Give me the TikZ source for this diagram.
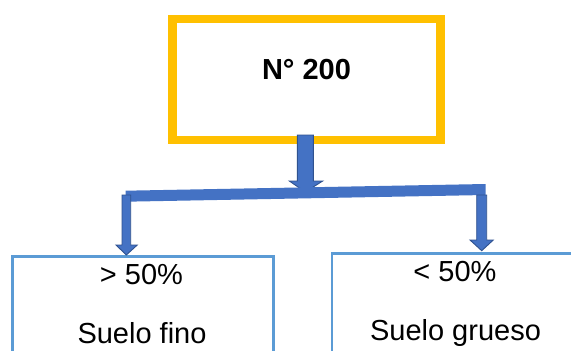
\documentclass[tikz,border=0pt]{standalone}
\usepackage{fontspec}
\setmainfont{Liberation Sans}
\definecolor{ygold}{HTML}{FFC000}
\definecolor{bfill}{HTML}{4472C4}
\definecolor{bline}{HTML}{2F528F}
\definecolor{lblue}{HTML}{5B9BD5}
\begin{document}
\begin{tikzpicture}[x=1pt,y=-1pt,
  topbox/.style={draw=ygold,line width=8.5pt,inner sep=0pt,minimum width=267.8pt,minimum height=121pt},
  lowbox/.style={draw=lblue,line width=2.5pt,inner sep=0pt,minimum width=260.7pt,minimum height=160pt,anchor=north west},
  blockarrow/.style={fill=bfill,draw=bline,line width=0.9pt,line join=miter},
  bar/.style={fill=bfill},
  lbl/.style={anchor=base,inner sep=0pt,font=\fontsize{29}{34}\selectfont}]
\useasboundingbox (0,0) rectangle (571,351);
\clip (0,0) rectangle (571,351);
\fill[white] (0,0) rectangle (571,351);
% boxes
\node[topbox] (top) at (306.6,79.5) {};
\node[lowbox] (fino) at (11.3,255) {};
\node[lowbox] (grueso) at (330.5,252) {};
% centre arrow
\coordinate (c) at (305.3,135);
\draw[blockarrow] (297.3,135) -- (313.3,135) -- (313.3,181) -- (322.7,181) -- (305.3,192) -- (289.3,181) -- (297.3,181) -- cycle;
% bar
\fill[bar] (125.7,190.7) -- (485.7,184) -- (485.7,195) -- (125.7,201.7) -- cycle;
% left arrow
\draw[blockarrow] (122,195) -- (130.7,195) -- (130.7,245) -- (137.3,245) -- (126.3,255) -- (116,245) -- (122,245) -- cycle;
% right arrow
\draw[blockarrow] (476.7,195) -- (486.7,195) -- (486.7,240) -- (493.3,240) -- (481.7,250.7) -- (470,240) -- (476.7,240) -- cycle;
% texts
\node[lbl,font=\fontsize{29}{34}\selectfont\bfseries] (t0) at (306.5,79) {N° 200};
\node[lbl] (t1) at (141.5,284) {> 50\%};
\node[lbl] (t2) at (142,343) {Suelo fino};
\node[lbl] (t3) at (455,281) {< 50\%};
\node[lbl] (t4) at (455.5,340) {Suelo grueso};
\end{tikzpicture}
\end{document}
